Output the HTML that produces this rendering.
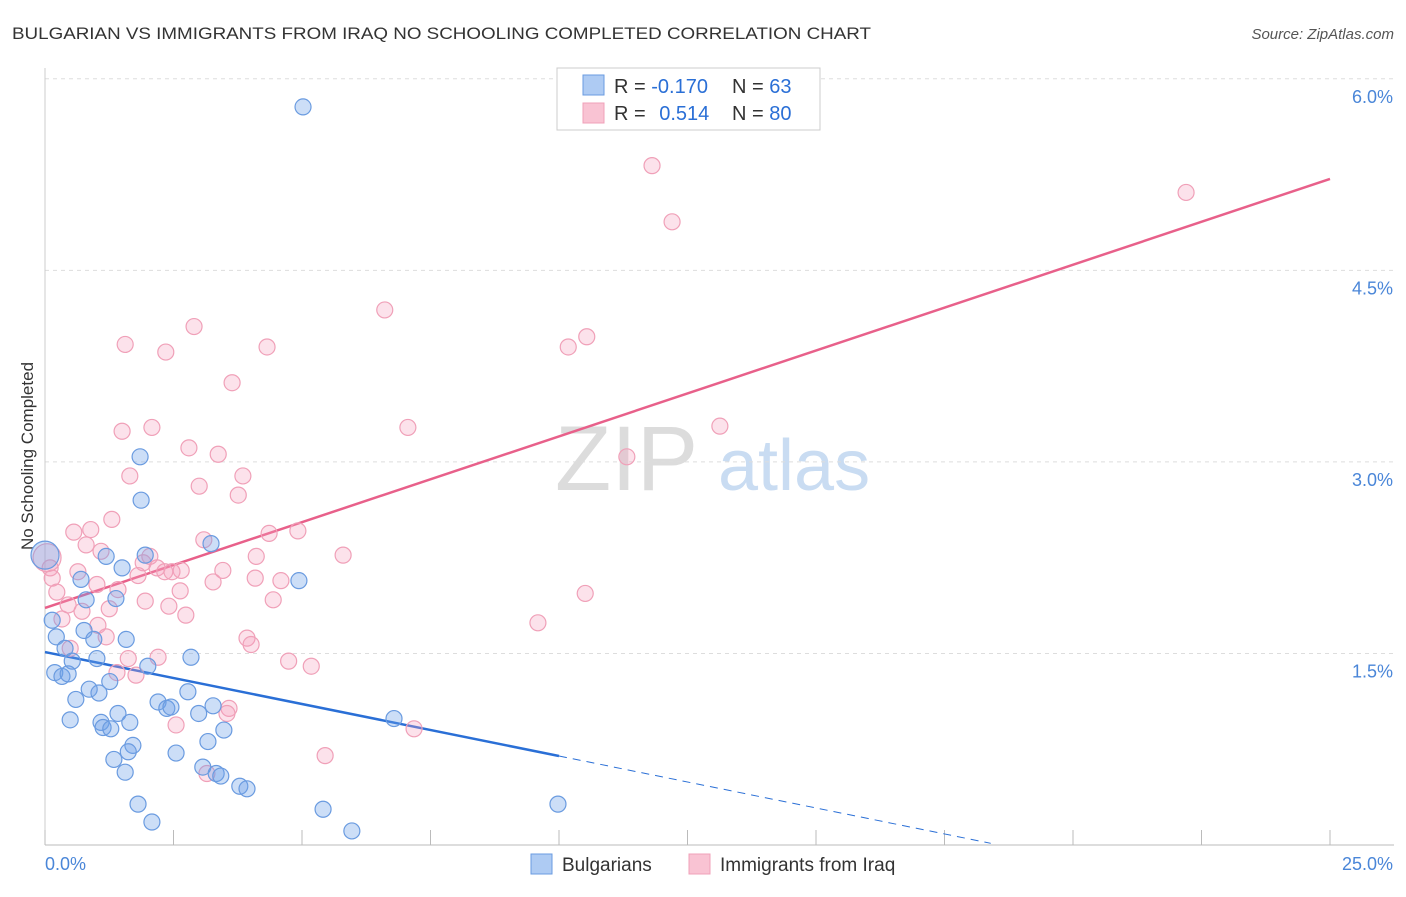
<!DOCTYPE html>
<html><head><meta charset="utf-8">
<style>
body{margin:0;background:#fff;font-family:"Liberation Sans",sans-serif;overflow:hidden;}
svg text{font-family:"Liberation Sans",sans-serif;}
</style></head>
<body>
<svg id="chart" width="1406" height="892" viewBox="0 0 1406 892">
<text x="12" y="39" font-size="17" fill="#333" textLength="859" lengthAdjust="spacingAndGlyphs">BULGARIAN VS IMMIGRANTS FROM IRAQ NO SCHOOLING COMPLETED CORRELATION CHART</text>
<text x="1394" y="39" font-size="15" fill="#555" font-style="italic" text-anchor="end">Source: ZipAtlas.com</text>
<text x="33" y="456" font-size="17" fill="#333" text-anchor="middle" transform="rotate(-90 33 456)">No Schooling Completed</text>
<g>
<text x="555" y="490" font-size="92" fill="#dcdcdc" font-family="Liberation Serif,serif">ZIP</text>
<text x="718" y="490" font-size="72" fill="#c9dcf2">atlas</text>
</g>
<g id="grid"></g>
<g id="lines"></g>
<g id="points"></g>
<g>
<rect x="557" y="68" width="263" height="62" fill="#fff" stroke="#ccc"/>
<rect x="583" y="75" width="21" height="20" fill="#aecbf3" stroke="#6a9be0"/>
<rect x="583" y="103" width="21" height="20" fill="#f9c3d3" stroke="#f0a0b8"/>
<text x="614" y="93" font-size="20" fill="#333">R = <tspan fill="#2a6fd6">-0.170</tspan></text>
<text x="732" y="93" font-size="20" fill="#333">N = <tspan fill="#2a6fd6">63</tspan></text>
<text x="614" y="120" font-size="20" fill="#333">R = <tspan fill="#2a6fd6" dx="8">0.514</tspan></text>
<text x="732" y="120" font-size="20" fill="#333">N = <tspan fill="#2a6fd6">80</tspan></text>
</g>
<g>
<rect x="531" y="854" width="21" height="20" fill="#aecbf3" stroke="#6a9be0"/>
<text x="562" y="871" font-size="19" fill="#333">Bulgarians</text>
<rect x="689" y="854" width="21" height="20" fill="#f9c3d3" stroke="#f0a0b8"/>
<text x="720" y="871" font-size="19" fill="#333">Immigrants from Iraq</text>
</g>
</svg>
<script>
const yTicks=[1.5,3.0,4.5,6.0];
const yTickLabels=["1.5%","3.0%","4.5%","6.0%"];
const xEndLabels=["0.0%","25.0%"];
const blueX=[5.02,1.85,1.87,3.23,1.95,1.19,1.50,0.70,4.94,1.38,0.80,0.14,0.22,0.76,0.95,1.58,0.39,0.53,1.01,2.84,2.00,0.19,0.33,0.45,1.26,0.86,1.05,2.78,0.60,2.20,2.37,2.45,3.27,2.99,1.42,0.49,1.09,1.65,6.79,1.13,1.28,3.48,3.17,1.71,1.62,2.55,1.34,3.07,1.56,3.33,3.42,3.79,3.93,1.81,5.41,9.98,2.08,5.97,0.0];
const blueY=[5.78,3.04,2.70,2.36,2.27,2.26,2.17,2.08,2.07,1.93,1.92,1.76,1.63,1.68,1.61,1.61,1.54,1.44,1.46,1.47,1.40,1.35,1.32,1.34,1.28,1.22,1.19,1.20,1.14,1.12,1.07,1.08,1.09,1.03,1.03,0.98,0.96,0.96,0.99,0.92,0.91,0.90,0.81,0.78,0.73,0.72,0.67,0.61,0.57,0.56,0.54,0.46,0.44,0.32,0.28,0.32,0.18,0.11,2.27];
const pinkX=[11.81,22.20,12.20,6.61,2.90,10.54,10.18,1.56,4.32,2.35,3.64,7.06,13.13,2.08,1.50,2.80,3.37,11.32,1.65,3.85,3.00,3.76,1.30,0.56,0.89,4.92,4.36,3.09,0.80,1.09,5.80,4.11,2.04,0.04,1.91,0.10,2.18,2.65,3.46,0.64,2.33,2.47,1.81,0.14,4.09,4.59,3.27,1.01,1.42,2.63,0.23,10.51,1.95,4.44,0.45,2.41,1.25,0.72,2.74,0.33,9.59,1.03,3.93,1.19,4.01,0.49,2.20,1.62,4.74,5.18,1.40,1.77,3.58,3.54,7.18,2.55,5.45,3.15];
const pinkY=[5.32,5.11,4.88,4.19,4.06,3.98,3.90,3.92,3.90,3.86,3.62,3.27,3.28,3.27,3.24,3.11,3.06,3.04,2.89,2.89,2.81,2.74,2.55,2.45,2.47,2.46,2.44,2.39,2.35,2.30,2.27,2.26,2.26,2.25,2.21,2.17,2.17,2.15,2.15,2.14,2.14,2.14,2.11,2.09,2.09,2.07,2.06,2.04,2.00,1.99,1.98,1.97,1.91,1.92,1.88,1.87,1.85,1.83,1.80,1.77,1.74,1.72,1.62,1.63,1.57,1.54,1.47,1.46,1.44,1.40,1.35,1.33,1.07,1.03,0.91,0.94,0.70,0.56];
const blueTrend=[1.511,-0.0814];
const pinkTrend=[1.856,0.1344];
const X0=45,X1=1330,Y0=845,PXY=127.7;
const xs=v=>X0+(X1-X0)*v/25;
const ys=v=>Y0-v*PXY;
const NS="http://www.w3.org/2000/svg";
function mk(t,a,p){const e=document.createElementNS(NS,t);for(const k in a)e.setAttribute(k,a[k]);p.appendChild(e);return e;}
const grid=document.getElementById('grid');
yTicks.forEach((t,i)=>{
 const l=mk('line',{x1:45,x2:1394,y1:ys(t),y2:ys(t),stroke:'#ddd','stroke-dasharray':'4 4'},grid);
 
 
 const tx=mk('text',{x:1393,y:ys(t)+24,'font-size':18,fill:'#4a86d8','text-anchor':'end'},grid);
 tx.textContent=yTickLabels[i];
 
 
});
const ax=mk('line',{x1:45,x2:1394,y1:845,y2:845,stroke:'#bbb'},grid);


const ay=mk('line',{x1:45,x2:45,y1:68,y2:845,stroke:'#ccc'},grid);


for(let i=0;i<=10;i++){
 const t=mk('line',{x1:xs(i*2.5),x2:xs(i*2.5),y1:830,y2:845,stroke:'#bbb'},grid);
 
 
}
[[0,45,'start'],[1,1393,'end']].forEach(([i,x,a])=>{
 const tx=mk('text',{x:x,y:870,'font-size':18,fill:'#4a86d8','text-anchor':a},grid);
 tx.textContent=xEndLabels[i];
 
 
});
const lines=document.getElementById('lines');
const bt=blueTrend;
const bl=mk('line',{x1:xs(0),y1:ys(bt[0]),x2:xs(10),y2:ys(bt[0]+bt[1]*10),stroke:'#2a6fd6','stroke-width':2.5},lines);


const bd=mk('line',{x1:xs(10),y1:ys(bt[0]+bt[1]*10),x2:xs(18.4),y2:ys(bt[0]+bt[1]*18.4),stroke:'#2a6fd6','stroke-width':1,'stroke-dasharray':'8 6'},lines);


const pl=mk('line',{x1:xs(0),y1:ys(pinkTrend[0]),x2:xs(25),y2:ys(pinkTrend[0]+pinkTrend[1]*25),stroke:'#e8608a','stroke-width':2.5},lines);


const pts=document.getElementById('points');
pinkX.forEach((v,i)=>{
 const c=mk('circle',{cx:xs(v),cy:ys(pinkY[i]),r:(v<0.2&&pinkY[i]>2.2)?14:8,fill:'rgba(244,160,188,0.3)',stroke:'#f0a0b8','stroke-width':1.2},pts);
 
 
});
blueX.forEach((v,i)=>{
 const c=mk('circle',{cx:xs(v),cy:ys(blueY[i]),r:v===0?14:8,fill:'rgba(110,160,232,0.35)',stroke:'#6a9be0','stroke-width':1.2},pts);
 
 
});
</script>
</body></html>
